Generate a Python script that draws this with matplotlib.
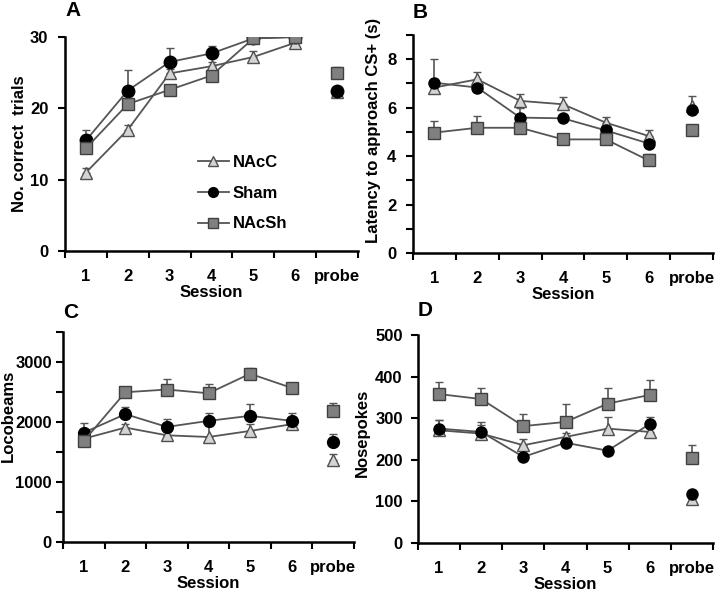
import numpy as np
import matplotlib
matplotlib.use('Agg')
import matplotlib.pyplot as plt
from matplotlib.lines import Line2D
from matplotlib.ticker import FixedLocator, MultipleLocator

plt.rcParams['font.family'] = ['Liberation Sans', 'DejaVu Sans']
plt.rcParams['font.weight'] = 'bold'

sessions = ['1', '2', '3', '4', '5', '6', 'probe']
groups = ['NAcC', 'Sham', 'NAcSh']

# Panel A: No. correct trials (last value = probe)
a_nacc = [11.0, 17.0, 24.9, 25.9, 27.2, 29.2, 22.3]
a_sham = [15.5, 22.5, 26.5, 27.7, 29.8, 30.0, 22.5]
a_nacsh = [14.4, 20.6, 22.6, 24.6, 29.8, 30.0, 24.9]
a_nacc_err = [0.6, 0.7, 0.6, 0.6, 0.9, 0.4, 0.4]
a_sham_err = [1.5, 2.9, 1.9, 1.0, 0.3, 0.3, 0.3]
a_nacsh_err = [0.8, 0.7, 0.6, 0.5, 0.3, 0.3, 0.9]

# Panel B: latency to approach CS+ (s)
b_nacc = [6.83, 7.17, 6.28, 6.14, 5.38, 4.83, 6.07]
b_sham = [7.03, 6.83, 5.59, 5.56, 5.06, 4.52, 5.89]
b_nacsh = [4.97, 5.17, 5.17, 4.69, 4.69, 3.82, 5.06]
b_nacc_err = [0.35, 0.30, 0.30, 0.30, 0.25, 0.25, 0.42]
b_sham_err = [0.97, 0.10, 0.38, 0.10, 0.10, 0.10, 0.10]
b_nacsh_err = [0.50, 0.48, 0.10, 0.10, 0.10, 0.25, 0.05]

# Panel C: locobeams
c_nacc = [1722, 1907, 1778, 1750, 1851, 1963, 1363]
c_sham = [1823, 2131, 1918, 2019, 2103, 2019, 1666]
c_nacsh = [1683, 2496, 2541, 2479, 2804, 2569, 2187]
c_nacc_err = [60, 60, 60, 185, 112, 50, 112]
c_sham_err = [168, 124, 129, 124, 197, 124, 129]
c_nacsh_err = [60, 95, 179, 157, 96, 67, 130]

# Panel D: nosepokes
d_nacc = [271, 263, 235, 255, 275, 267, 105]
d_sham = [275, 267, 207, 241, 222, 286, 117]
d_nacsh = [358, 346, 281, 291, 335, 356, 205]
d_nacc_err = [24, 20, 14, 10, 27, 10, 8]
d_sham_err = [20, 24, 6, 6, 6, 17, 8]
d_nacsh_err = [30, 26, 28, 42, 37, 36, 30]

styles = {
    'NAcC': dict(marker='^', mfc='#d4d4d4', mec='#505050'),
    'Sham': dict(marker='o', mfc='black', mec='black'),
    'NAcSh': dict(marker='s', mfc='#808080', mec='#404040'),
}
line_col = '#555555'
W, H = 720, 596

# letter, axes box in pixels (left, top, right, bottom), ylabel, data, errors,
# ymax, yticks, minor step, marker size, ylabel right edge px, ylabel y frac,
# letter y px, y tick pad
panels = [
    ('A', (65, 37, 358, 251), 'No. correct  trials',
     (a_nacc, a_sham, a_nacsh), (a_nacc_err, a_sham_err, a_nacsh_err),
     30, [0, 10, 20, 30], None, 9, 27, 0.5, 10, 7),
    ('B', (413, 35, 713, 253), 'Latency to approach CS+ (s)',
     (b_nacc, b_sham, b_nacsh), (b_nacc_err, b_sham_err, b_nacsh_err),
     9, [0, 2, 4, 6, 8], 1, 8, 381, 0.56, 13, 7),
    ('C', (63, 332, 354, 542), 'Locobeams',
     (c_nacc, c_sham, c_nacsh), (c_nacc_err, c_sham_err, c_nacsh_err),
     3500, [0, 1000, 2000, 3000], 500, 8.5, 16, 0.6, 312, 3),
    ('D', (418, 335, 713, 543), 'Nosepokes',
     (d_nacc, d_sham, d_nacsh), (d_nacc_err, d_sham_err, d_nacsh_err),
     500, [0, 100, 200, 300, 400, 500], None, 8, 370, 0.53, 310, 6),
]

fig = plt.figure(figsize=(7.2, 5.96), dpi=100)
x = np.arange(len(sessions))

for (letter, box, ylabel, vals, errs, ymax, yticks, yminor, ms,
     ylab_x, ylab_y, let_y, ypad) in panels:
    l, t, r, b = box
    ax = fig.add_axes([l / W, 1 - b / H, (r - l) / W, (b - t) / H])
    for g, v, e in zip(groups, vals, errs):
        st = styles[g]
        v = np.array(v, dtype=float)
        e = np.array(e, dtype=float)
        # training sessions, connected
        ax.errorbar(x[:6], v[:6], yerr=[np.zeros(6), e[:6]], color=line_col,
                    lw=1.3, elinewidth=1.2, capsize=3, capthick=1.2,
                    ms=ms, mew=1.0, **st)
        # probe, unconnected
        ax.errorbar(x[6:], v[6:], yerr=[np.zeros(1), e[6:]], color=line_col,
                    ls='none', elinewidth=1.2, capsize=3, capthick=1.2,
                    ms=ms, mew=1.0, **st)
    ax.set_xlim(-0.5, 6.5)
    ax.set_ylim(0, ymax)
    ax.spines['top'].set_visible(False)
    ax.spines['right'].set_visible(False)
    ax.spines['left'].set_linewidth(1.8)
    ax.spines['bottom'].set_linewidth(1.8)
    # ticks at category boundaries, labels at category centres
    ax.xaxis.set_major_locator(FixedLocator(np.arange(-0.5, 7.0, 1.0)))
    ax.xaxis.set_minor_locator(FixedLocator(x))
    ax.set_xticklabels([], minor=False)
    ax.set_xticklabels(sessions, minor=True, fontsize=12, fontweight='bold')
    ax.tick_params(axis='x', which='major', length=5, width=1.5, direction='out')
    ax.tick_params(axis='x', which='minor', length=0, pad=13)
    ax.set_yticks(yticks)
    ax.set_yticklabels([str(t) for t in yticks], fontsize=12, fontweight='bold')
    if yminor:
        ax.yaxis.set_minor_locator(MultipleLocator(yminor))
        ax.tick_params(axis='y', which='minor', length=5, width=1.5)
    ax.tick_params(axis='y', which='major', length=5, width=1.5, pad=ypad)
    ax.set_xlabel('Session', fontsize=12, fontweight='bold', labelpad=1)
    ax.set_ylabel(ylabel, fontsize=12, fontweight='bold')
    ax.yaxis.set_label_coords((ylab_x - l) / (r - l), ylab_y)
    fig.text(l / W, 1 - let_y / H, letter, fontsize=15,
             fontweight='bold', va='center', ha='left')
    if letter == 'A':
        handles = [Line2D([], [], color=line_col, lw=1.3, ms=7, mew=1.0,
                          **styles[g]) for g in groups]
        ax.legend(handles, groups, loc='lower left', bbox_to_anchor=(0.43, 0.06),
                  frameon=False, fontsize=12, handlelength=1.9,
                  handletextpad=0.2, labelspacing=0.95, borderaxespad=0)

fig.savefig('out.png', dpi=100)
